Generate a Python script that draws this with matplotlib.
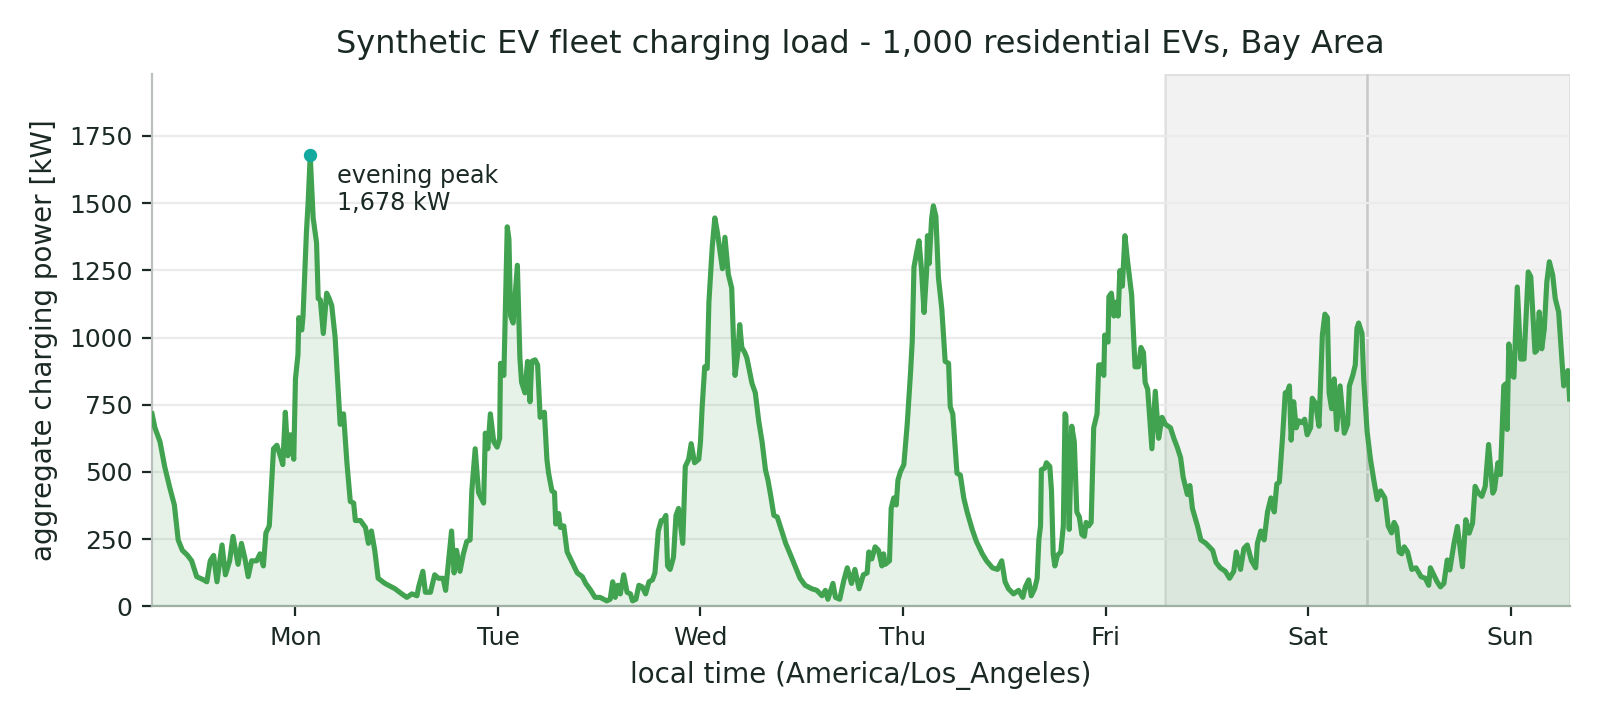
import numpy as np
import matplotlib
matplotlib.use('Agg')
from matplotlib import pyplot as plt

# hours since Monday 00:00 local time -> aggregate charging load (kW)
mon_h = [0.0, 0.35, 0.95, 1.5, 2.1, 2.65, 3.1, 3.6, 4.2, 4.7, 5.3, 6.0, 6.5, 6.9, 7.3, 7.7,
         8.3, 8.7, 9.2, 9.6, 10.2, 10.6, 11.0, 11.4, 11.8, 12.4, 12.8, 13.2, 13.5, 13.9,
         14.1, 14.4, 14.8, 15.2, 15.5, 15.8, 16.1, 16.4, 16.8, 17.0, 17.3, 17.4, 17.75,
         17.9, 18.3, 18.5, 18.75, 19.1, 19.5, 19.7, 19.95, 20.3, 20.7, 21.0, 21.3, 21.7,
         22.3, 22.7, 23.1, 23.5, 23.9]
mon_kw = [716, 664, 612, 520, 442, 377, 247, 208, 190, 169, 110, 100, 91, 169, 189, 91,
          228, 117, 169, 260, 156, 234, 180, 110, 169, 169, 195, 150, 273, 299,
          416, 586, 599, 560, 527, 722, 560, 638, 547, 846, 937, 1074, 1028,
          1080, 1392, 1500, 1678, 1445, 1353, 1145, 1140, 1015, 1165, 1145, 1119, 1002,
          677, 716, 534, 390, 384]

tue_h = [24.1, 24.7, 25.3, 25.65, 26.0, 26.4, 26.8, 27.6, 28.2, 28.8, 29.6, 30.2, 30.8,
         31.4, 31.6, 32.1, 32.4, 33.0, 33.5, 33.95, 34.5, 34.8, 35.5, 35.8, 36.1, 36.5,
         36.9, 37.3, 37.7, 37.9, 38.3, 38.7, 39.3, 39.5, 39.8, 40.1, 40.5, 40.9, 41.2,
         41.3, 41.7, 41.9, 42.1, 42.3, 42.5, 42.8, 43.3, 43.6, 43.8, 44.2, 44.5, 44.8,
         45.0, 45.4, 45.7, 46.0, 46.5, 46.8, 47.0, 47.4, 47.7, 47.85]
tue_kw = [319, 319, 293, 234, 280, 208, 104, 85, 75, 65, 46, 33, 46,
          39, 72, 130, 52, 52, 117, 104, 104, 59, 280, 124, 208, 130,
          195, 241, 247, 429, 586, 423, 384, 644, 586, 716, 612, 592, 625,
          904, 859, 1132, 1412, 1366, 1080, 1054, 1269, 924, 833, 794, 911, 761,
          911, 917, 898, 703, 722, 547, 495, 429, 423, 306]

wed_h = [48.2, 48.4, 48.8, 49.2, 49.8, 50.4, 51.0, 51.4, 52.0, 52.5, 53.1, 53.9, 54.3,
         54.6, 54.9, 55.2, 55.5, 55.9, 56.3, 56.7, 56.95, 57.35, 57.7, 58.1, 58.5, 58.9,
         59.3, 59.6, 60.0, 60.35, 60.6, 60.9, 61.1, 61.4, 61.8, 62.1, 62.4, 62.9, 63.2,
         63.6, 63.9, 64.3, 64.8, 65.0, 65.2, 65.5, 65.8, 66.0, 66.2, 66.4, 66.7, 67.0,
         67.4, 67.6, 67.9, 68.3, 68.7, 68.9, 69.1, 69.45, 69.65, 69.9, 70.25, 70.5,
         70.8, 71.1, 71.5, 71.9]
wed_kw = [345, 293, 299, 202, 163, 124, 110, 85, 59, 33, 33, 20, 26,
          91, 33, 78, 46, 117, 52, 46, 20, 26, 78, 72, 46, 91,
          98, 124, 280, 319, 319, 338, 150, 137, 182, 338, 364, 234, 520,
          547, 605, 534, 547, 612, 742, 891, 885, 1132, 1236, 1340, 1445, 1392,
          1301, 1256, 1373, 1236, 1184, 1002, 859, 950, 1048, 963, 944, 924,
          878, 830, 794, 690]

thu_h = [72.3, 72.7, 73.0, 73.3, 73.7, 74.1, 74.7, 75.1, 75.7, 76.2, 76.8, 77.4, 78.2,
         78.8, 79.4, 79.8, 80.1, 80.7, 81.0, 81.5, 82.0, 82.4, 82.9, 83.3, 83.8, 84.3,
         84.75, 84.95, 85.3, 85.7, 86.1, 86.5, 86.7, 86.9, 87.4, 87.6, 87.9, 88.2, 88.4,
         88.7, 89.1, 89.5, 89.9, 90.1, 90.3, 90.6, 90.9, 91.2, 91.5, 91.8, 91.9, 92.1,
         92.4, 92.6, 92.9, 93.2, 93.6, 94.0, 94.4, 94.6, 94.9, 95.4]
thu_kw = [612, 508, 469, 416, 338, 332, 273, 234, 189, 150, 104, 78, 65,
          59, 39, 59, 26, 85, 33, 26, 98, 143, 85, 137, 65, 117,
          124, 202, 176, 221, 208, 150, 195, 156, 169, 364, 403, 377, 469,
          501, 527, 677, 872, 989, 1262, 1314, 1360, 1249, 1093, 1249, 1379, 1275,
          1445, 1490, 1451, 1223, 1106, 911, 904, 742, 716, 495]

fri_h = [95.8, 96.2, 96.6, 97.2, 97.7, 98.4, 98.9, 99.6, 100.2, 100.7, 101.1, 101.5,
         102.1, 102.7, 103.2, 103.5, 103.9, 104.2, 104.6, 104.9, 105.1, 105.3, 105.4,
         105.8, 106.0, 106.4, 106.6, 106.8, 107.0, 107.3, 107.7, 108.0, 108.2, 108.3,
         108.5, 108.7, 109.0, 109.3, 109.6, 109.9, 110.2, 110.5, 110.7, 111.0, 111.3,
         111.6, 112.0, 112.2, 112.5, 112.8, 112.9, 113.3, 113.4, 113.7, 114.0, 114.3,
         114.5, 114.7, 115.0, 115.3, 115.6, 116.1, 116.5, 116.9, 117.2, 117.5, 117.7,
         118.0, 118.5, 118.9, 119.3, 119.7]
fri_kw = [488, 403, 351, 286, 241, 195, 169, 143, 137, 169, 91, 65,
          46, 59, 33, 72, 98, 39, 65, 104, 247, 299, 508,
          514, 534, 520, 429, 195, 150, 189, 202, 299, 716, 709,
          481, 286, 670, 612, 351, 332, 267, 260, 312, 299, 312,
          664, 716, 898, 898, 859, 1009, 983, 1152, 1165, 1080, 1132,
          1080, 1249, 1191, 1379, 1288, 1158, 891, 891, 963, 944, 833,
          807, 586, 800, 625, 703]

sat_h = [120.1, 120.7, 121.1, 121.5, 121.9, 122.2, 122.7, 123.0, 123.3, 123.9, 124.3,
         124.9, 125.7, 126.1, 126.6, 127.2, 127.7, 128.2, 128.5, 129.0, 129.4, 129.8,
         130.3, 130.8, 131.0, 131.4, 131.8, 132.2, 132.6, 133.0, 133.3, 133.6, 134.0,
         134.3, 134.6, 134.8, 135.0, 135.3, 135.6, 135.9, 136.3, 136.6, 136.9, 137.3,
         137.5, 137.9, 138.3, 138.7, 139.0, 139.3, 139.5, 139.8, 140.1, 140.4, 140.8,
         141.3, 141.7, 141.9, 142.3, 142.6, 142.8, 143.0, 143.4, 143.6]
sat_kw = [677, 664, 625, 592, 553, 481, 416, 449, 364, 299, 247,
          234, 208, 163, 143, 130, 104, 130, 202, 137, 215, 228,
          169, 143, 234, 280, 247, 351, 403, 351, 455, 462, 638,
          794, 800, 820, 618, 761, 664, 690, 683, 696, 638, 664,
          774, 755, 670, 1009, 1087, 1074, 794, 735, 846, 657, 820,
          644, 677, 820, 859, 898, 1035, 1054, 1015, 846]

sun_h = [144.0, 144.4, 144.8, 145.2, 145.6, 146.1, 146.5, 146.9, 147.2, 147.5, 147.8,
         148.1, 148.4, 148.8, 149.3, 149.8, 150.4, 150.9, 151.3, 151.5, 151.9, 152.3,
         152.7, 153.1, 153.5, 153.8, 154.3, 154.7, 155.0, 155.3, 155.7, 156.1, 156.5,
         156.8, 157.2, 157.6, 158.0, 158.4, 158.9, 159.1, 159.5, 159.8, 160.2, 160.4,
         160.6, 160.8, 161.2, 161.4, 161.8, 162.2, 162.6, 163.1, 163.4, 163.9, 164.1,
         164.4, 164.7, 165.0, 165.3, 165.6, 166.0, 166.3, 166.7, 167.3, 167.8, 168.0]
sun_kw = [651, 547, 469, 397, 429, 403, 299, 273, 312, 293, 202,
          195, 221, 202, 137, 143, 110, 104, 78, 143, 117, 91,
          72, 85, 172, 135, 234, 297, 222, 147, 322, 272, 309,
          446, 421, 409, 446, 602, 421, 434, 534, 490, 820, 827,
          658, 976, 858, 852, 1188, 920, 920, 1244, 1226, 945, 951,
          1095, 958, 1032, 1207, 1282, 1232, 1145, 1095, 820, 877, 771]

day_labels = ['Mon', 'Tue', 'Wed', 'Thu', 'Fri', 'Sat', 'Sun']
weekend_start = [120, 144]

hours = np.concatenate([mon_h, tue_h, wed_h, thu_h, fri_h, sat_h, sun_h])
load = np.concatenate([mon_kw, tue_kw, wed_kw, thu_kw, fri_kw, sat_kw, sun_kw])

green = '#41a250'
teal = '#13a99f'
ink = '#1b2925'

plt.rcParams['font.family'] = 'DejaVu Sans'
fig, ax = plt.subplots(figsize=(8, 3.6), dpi=200)
fig.subplots_adjust(left=0.095, right=0.981, top=0.897, bottom=0.158)

for s in weekend_start:
    ax.axvspan(s, s + 24, facecolor=(0.5, 0.5, 0.5, 0.1),
               edgecolor=(0.45, 0.45, 0.45, 0.18), lw=0.9, zorder=0)

ax.fill_between(hours, load, 0, color=green, alpha=0.13, lw=0, zorder=1)
ax.plot(hours, load, color=green, lw=1.85, zorder=3)

# evening peak marker
i = np.argmax(load)
ax.plot(hours[i], load[i], 'o', color=teal, ms=3.8, zorder=5)
ax.annotate(f'evening peak\n{load[i]:,.0f} kW', xy=(hours[i], load[i]),
            xytext=(9.5, -3), textcoords='offset points', ha='left', va='top',
            fontsize=8.6, color=ink)

ax.set_xlim(0, 168)
ax.set_ylim(0, load.max() * 1.18)
ax.set_xticks([17 + 24 * k for k in range(7)])
ax.set_xticklabels(day_labels)

ax.grid(axis='y', color='#ebebeb', lw=0.8, zorder=0)
ax.set_axisbelow(True)
ax.spines['top'].set_visible(False)
ax.spines['right'].set_visible(False)
ax.spines['left'].set_color('#b9c0bd')
ax.spines['bottom'].set_color('#9db0a3')
ax.tick_params(colors=ink, labelsize=9, length=3.5, width=0.8)

ax.set_title('Synthetic EV fleet charging load - 1,000 residential EVs, Bay Area',
             fontsize=11.5, color=ink, pad=7.5)
ax.set_xlabel('local time (America/Los_Angeles)', fontsize=10, color=ink)
ax.set_ylabel('aggregate charging power [kW]', fontsize=10, color=ink)

plt.savefig('out.png', dpi=200)
